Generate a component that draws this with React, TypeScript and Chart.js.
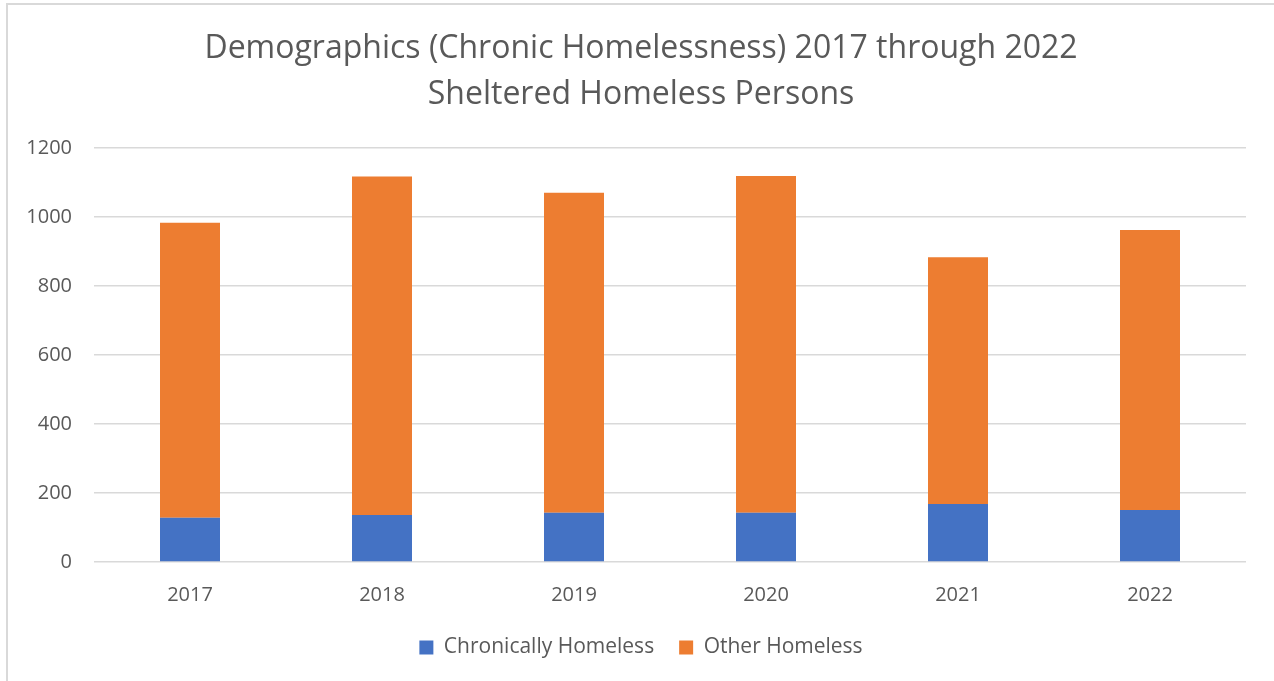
import React, { useEffect, useRef } from "react";
import { Chart, registerables } from "chart.js";

Chart.register(...registerables);

const categories = ["2017", "2018", "2019", "2020", "2021", "2022"];
const chronicallyHomeless = [128, 136, 143, 143, 168, 151];
const otherHomeless = [856, 982, 928, 976, 716, 812];
const titleLines = ["Demographics (Chronic Homelessness) 2017 through 2022", "Sheltered Homeless Persons"];

const FONT = "'Open Sans', 'DejaVu Sans', sans-serif";
const TEXT = "#595959";

export default function App() {
  const ref = useRef<HTMLCanvasElement | null>(null);

  useEffect(() => {
    document.body.style.margin = "0";
    const chart = new Chart(ref.current as HTMLCanvasElement, {
      type: "bar",
      data: {
        labels: categories,
        datasets: [
          {
            label: "Chronically Homeless",
            data: chronicallyHomeless,
            backgroundColor: "#4472C4",
            borderWidth: 0,
          },
          {
            label: "Other Homeless",
            data: otherHomeless,
            backgroundColor: "#ED7D31",
            borderWidth: 0,
          },
        ],
      },
      options: {
        responsive: false,
        animation: false,
        devicePixelRatio: 1,
        layout: { padding: { left: 8, right: 0, top: 0, bottom: 13 } },
        datasets: { bar: { barPercentage: 0.3125, categoryPercentage: 1 } },
        scales: {
          x: {
            stacked: true,
            grid: { display: false, drawTicks: false },
            border: { display: false },
            ticks: { color: TEXT, font: { family: FONT, size: 20 }, padding: 21 },
            afterFit: (s: any) => { s.height = 50; },
          },
          y: {
            stacked: true,
            min: 0,
            max: 1200,
            ticks: {
              stepSize: 200,
              color: TEXT,
              font: { family: FONT, size: 20 },
              padding: 22,
              callback: (v: any) => String(v),
            },
            grid: { color: "#d9d9d9", lineWidth: 1.5, drawTicks: false },
            border: { display: false },
            afterFit: (s: any) => { s.width = 86; },
          },
          yRight: {
            position: "right",
            display: true,
            ticks: { display: false },
            grid: { display: false, drawOnChartArea: false, drawTicks: false },
            border: { display: false },
            afterFit: (s: any) => { s.width = 28; },
          },
        },
        plugins: {
          title: {
            display: true,
            text: titleLines,
            color: TEXT,
            font: { family: FONT, size: 32, weight: "normal", lineHeight: 1.44 },
            padding: { top: 26, bottom: 30 },
          },
          legend: {
            position: "bottom",
            labels: {
              color: TEXT,
              font: { family: FONT, size: 21 },
              boxWidth: 14,
              boxHeight: 14,
              padding: 25,
            },
          },
          tooltip: { enabled: false },
        },
      },
    });
    return () => chart.destroy();
  }, []);

  return (
    <div style={{ position: "fixed", left: 0, top: 0, width: 1274, height: 681, background: "#fff", overflow: "hidden" }}>
      <div style={{ position: "absolute", left: 6, top: 3, width: 1320, height: 720, border: "2px solid #d9d9d9" }} />
      <canvas ref={ref} width={1274} height={681} style={{ position: "absolute", left: 0, top: 0 }} />
    </div>
  );
}
